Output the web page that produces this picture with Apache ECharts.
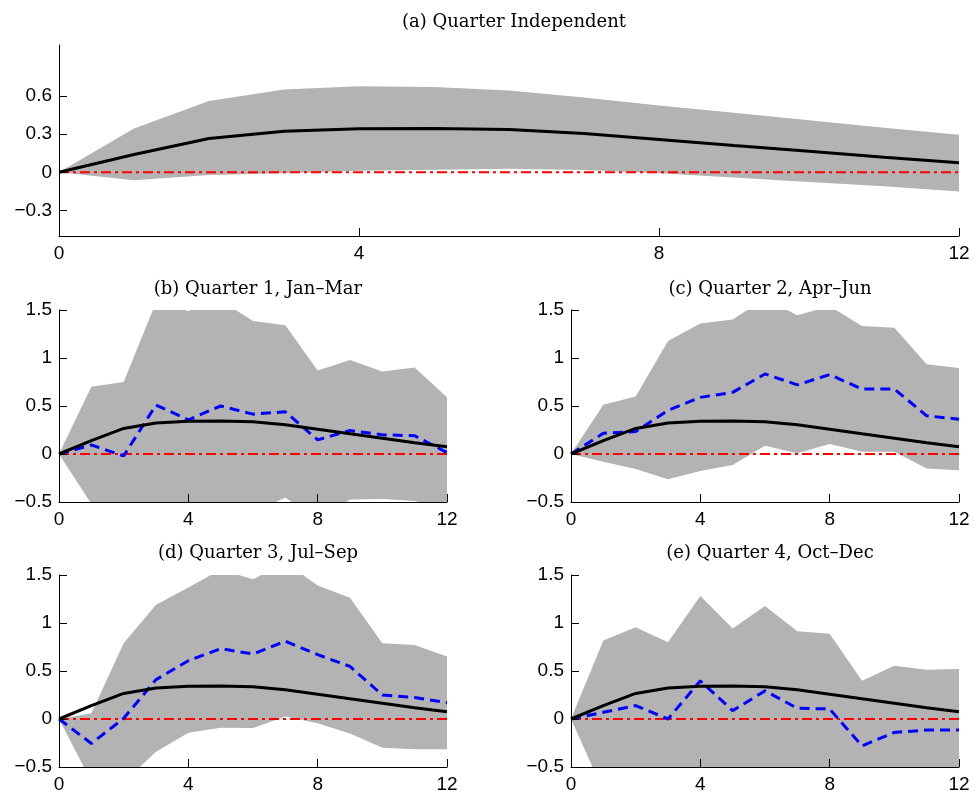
<!DOCTYPE html>
<html>
<head>
<meta charset="utf-8">
<script src="https://cdn.jsdelivr.net/npm/echarts@6/dist/echarts.min.js"></script>
<style>
html, body { margin: 0; padding: 0; background: #fff; }
#main { width: 975px; height: 797px; }
</style>
</head>
<body>
<div id="main"></div>
<script>
var myChart = echarts.init(document.getElementById('main'));

// horizon (quarters)
var horizons = [0, 1, 2, 3, 4, 5, 6, 7, 8, 9, 10, 11, 12];
var xTicks = [0, 4, 8, 12];
var yTicksA = [-0.3, 0, 0.3, 0.6];
var yTicksQ = [-0.5, 0, 0.5, 1, 1.5];

// quarter independent response (black line, same in every panel)
var medianIRF = [0, 0.14, 0.266, 0.323, 0.342, 0.345, 0.337, 0.305, 0.258, 0.21, 0.165, 0.118, 0.075];
var upperA = [0, 0.345, 0.56, 0.65, 0.676, 0.67, 0.642, 0.588, 0.525, 0.467, 0.41, 0.35, 0.295];
var lowerA = [0, -0.063, -0.02, -0.008, 0.013, 0.02, 0.028, 0.018, -0.008, -0.04, -0.075, -0.11, -0.15];

// quarter 1, Jan-Mar
var upperQ1 = [0, 0.70, 0.75, 1.58, 1.49, 1.6, 1.385, 1.34, 0.87, 0.98, 0.86, 0.90, 0.59];
var lowerQ1 = [0, -0.52, -0.65, -0.7, -0.68, -0.65, -0.61, -0.453, -0.69, -0.475, -0.47, -0.49, -0.56];
var irfQ1 = [0, 0.094, -0.02, 0.51, 0.356, 0.50, 0.415, 0.44, 0.147, 0.245, 0.2, 0.19, 0.015];

// quarter 2, Apr-Jun
var upperQ2 = [0, 0.513, 0.60, 1.176, 1.36, 1.40, 1.62, 1.445, 1.54, 1.333, 1.316, 0.935, 0.897];
var lowerQ2 = [0, -0.08, -0.157, -0.262, -0.178, -0.115, 0.087, 0.007, 0.105, 0.024, 0.024, -0.15, -0.168];
var irfQ2 = [0, 0.216, 0.234, 0.454, 0.59, 0.642, 0.834, 0.72, 0.827, 0.677, 0.677, 0.398, 0.363];

// quarter 3, Jul-Sep
var upperQ3 = [0, 0.06, 0.79, 1.19, 1.37, 1.556, 1.455, 1.63, 1.39, 1.264, 0.79, 0.77, 0.65];
var lowerQ3 = [0, -0.65, -0.66, -0.34, -0.143, -0.09, -0.095, 0.025, -0.045, -0.15, -0.30, -0.315, -0.315];
var irfQ3 = [0, -0.255, 0.007, 0.41, 0.607, 0.733, 0.677, 0.81, 0.67, 0.548, 0.25, 0.223, 0.17];

// quarter 4, Oct-Dec
var upperQ4 = [0, 0.817, 0.956, 0.80, 1.28, 0.942, 1.176, 0.914, 0.887, 0.398, 0.555, 0.513, 0.52];
var lowerQ4 = [0, -0.75, -0.85, -0.9, -0.8, -0.85, -0.9, -0.85, -0.8, -0.95, -0.9, -0.85, -0.85];
var irfQ4 = [0, 0.07, 0.14, 0.0, 0.398, 0.087, 0.293, 0.112, 0.105, -0.28, -0.14, -0.115, -0.115];

var panelTitles = ['(a) Quarter Independent', '(b) Quarter 1, Jan\u2013Mar', '(c) Quarter 2, Apr\u2013Jun',
    '(d) Quarter 3, Jul\u2013Sep', '(e) Quarter 4, Oct\u2013Dec'];

var grids = [
    {left: 59, top: 45, width: 900, height: 191},
    {left: 59, top: 310, width: 388, height: 192},
    {left: 571, top: 310, width: 388, height: 192},
    {left: 59, top: 575, width: 388, height: 192},
    {left: 571, top: 575, width: 388, height: 192}
];
var titleTops = [8, 275, 275, 539, 539];

var panels = [
    {upper: upperA, lower: lowerA, irf: null, ymin: -0.5, ymax: 1.0, ticks: yTicksA},
    {upper: upperQ1, lower: lowerQ1, irf: irfQ1, ymin: -0.5, ymax: 1.5, ticks: yTicksQ},
    {upper: upperQ2, lower: lowerQ2, irf: irfQ2, ymin: -0.5, ymax: 1.5, ticks: yTicksQ},
    {upper: upperQ3, lower: lowerQ3, irf: irfQ3, ymin: -0.5, ymax: 1.5, ticks: yTicksQ},
    {upper: upperQ4, lower: lowerQ4, irf: irfQ4, ymin: -0.5, ymax: 1.5, ticks: yTicksQ}
];

function pairs(vals) {
    return horizons.map(function (h, i) { return [h, vals[i]]; });
}
function fmt(v) {
    return String(Math.round(v * 10) / 10).replace('-', '\u2212');
}

// shaded band: polygon upper -> lower, through the axis scales
function bandRenderer(upper, lower) {
    return function (params, api) {
        if (params.dataIndex !== 0) return null;
        var pts = [];
        horizons.forEach(function (h, k) { pts.push(api.coord([h, upper[k]])); });
        for (var k = horizons.length - 1; k >= 0; k--) pts.push(api.coord([horizons[k], lower[k]]));
        return {
            type: 'polygon',
            shape: {points: pts},
            style: {fill: '#b3b3b3', stroke: null}
        };
    };
}

var labelFont = {color: '#000', fontFamily: 'Liberation Sans, Arial, sans-serif', fontSize: 19};

var option = {
    backgroundColor: '#fff',
    animation: false,
    title: [],
    grid: [],
    xAxis: [],
    yAxis: [],
    series: []
};

panels.forEach(function (p, i) {
    var g = grids[i];
    option.grid.push(g);
    option.title.push({
        text: panelTitles[i],
        left: g.left + g.width / 2,
        top: titleTops[i],
        textAlign: 'center',
        textStyle: {fontFamily: 'DejaVu Serif, serif', fontWeight: 'normal', fontSize: 18, color: '#000'}
    });
    option.xAxis.push({
        type: 'value', gridIndex: i, min: 0, max: 12, interval: 4, z: 5,
        axisLine: {onZero: false, lineStyle: {color: '#000', width: 1}},
        axisTick: {inside: true, length: 8, lineStyle: {color: '#000'}},
        axisLabel: Object.assign({margin: 8, customValues: xTicks}, labelFont),
        splitLine: {show: false}
    });
    option.yAxis.push({
        type: 'value', gridIndex: i, min: p.ymin, max: p.ymax, z: 5,
        axisLine: {show: true, lineStyle: {color: '#000', width: 1}},
        axisTick: {show: true, inside: true, length: 8, customValues: p.ticks, lineStyle: {color: '#000'}},
        axisLabel: Object.assign({margin: 7, customValues: p.ticks, formatter: fmt}, labelFont),
        splitLine: {show: false}
    });

    option.series.push({
        type: 'custom', xAxisIndex: i, yAxisIndex: i, clip: true, silent: true,
        data: pairs(p.upper), encode: {x: 0, y: 1},
        renderItem: bandRenderer(p.upper, p.lower)
    });
    option.series.push({
        type: 'line', xAxisIndex: i, yAxisIndex: i, symbol: 'none',
        data: pairs(horizons.map(function () { return 0; })),
        lineStyle: {color: '#ff0000', width: 2, type: [10, 4, 3, 4]}
    });
    if (p.irf) {
        option.series.push({
            type: 'line', xAxisIndex: i, yAxisIndex: i, symbol: 'none', data: pairs(p.irf),
            lineStyle: {color: '#0000ff', width: 3, type: [10, 6]}
        });
    }
    option.series.push({
        type: 'line', xAxisIndex: i, yAxisIndex: i, symbol: 'none', data: pairs(medianIRF),
        lineStyle: {color: '#000', width: 3}
    });
});

myChart.setOption(option);
</script>
</body>
</html>
